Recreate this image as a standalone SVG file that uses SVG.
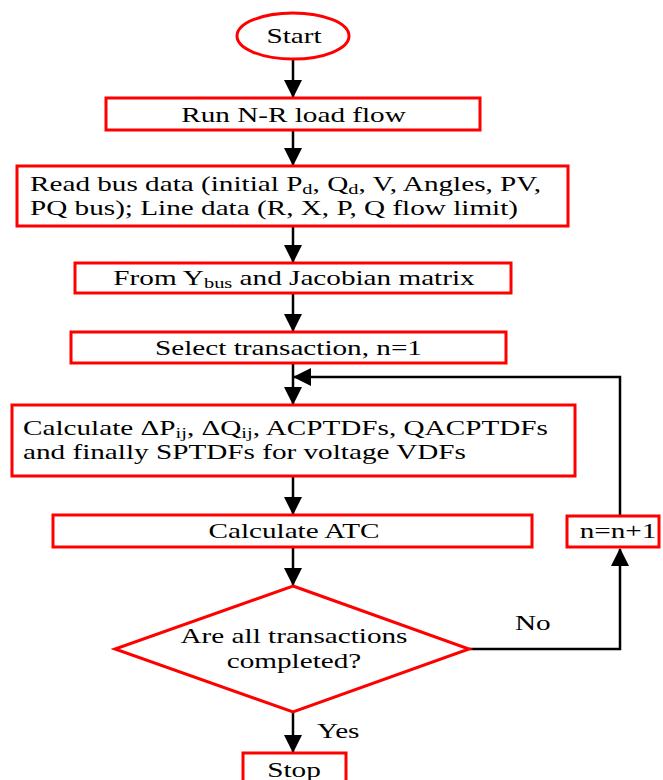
<svg xmlns="http://www.w3.org/2000/svg" width="663" height="780" viewBox="0 0 663 780">
<style>
.n{fill:#fff;stroke:#ff0000;stroke-width:3}
.t{font-family:"Liberation Serif","Times New Roman",serif;font-size:20px;fill:#000}
.c{text-anchor:middle}
.e{fill:none;stroke:#000;stroke-width:2.5}
.sub{font-size:14px}
</style>
<defs>
<marker id="ah" markerUnits="userSpaceOnUse" markerWidth="18" markerHeight="22" viewBox="0 0 18 22" refX="17" refY="11" orient="auto">
<path d="M0,2 L18,11 L0,20 Z" fill="#000"/>
</marker>
</defs>
<g id="connectors">
<line class="e" x1="293" y1="59" x2="293" y2="97" marker-end="url(#ah)"/>
<line class="e" x1="293" y1="130" x2="293" y2="165" marker-end="url(#ah)"/>
<line class="e" x1="293" y1="226" x2="293" y2="262" marker-end="url(#ah)"/>
<line class="e" x1="293" y1="293" x2="293" y2="331" marker-end="url(#ah)"/>
<line class="e" x1="293" y1="363" x2="293" y2="404" marker-end="url(#ah)"/>
<polyline class="e" points="620,515 620,377 294,377" marker-end="url(#ah)"/>
<line class="e" x1="293" y1="476" x2="293" y2="514" marker-end="url(#ah)"/>
<line class="e" x1="293" y1="547" x2="293" y2="585" marker-end="url(#ah)"/>
<polyline class="e" points="469,649 620,649 620,549" marker-end="url(#ah)"/>
<line class="e" x1="293" y1="712" x2="293" y2="752" marker-end="url(#ah)"/>
<text class="t" transform="matrix(1.46 0 0 1 515 630)">No</text>
<text class="t" transform="matrix(1.46 0 0 1 317 738)">Yes</text>
</g>
<g id="start">
<ellipse class="n" cx="293" cy="36" rx="56" ry="23"/>
<text class="t c" transform="matrix(1.46 0 0 1 294 43)">Start</text>
</g>
<g id="runnr">
<rect class="n" x="106" y="98" width="374" height="32"/>
<text class="t c" transform="matrix(1.46 0 0 1 293.5 122)">Run N-R load flow</text>
</g>
<g id="readdata">
<rect class="n" x="17" y="166" width="551" height="60"/>
<text class="t" transform="matrix(1.46 0 0 1 30 191)">Read bus data (initial P<tspan class="sub" dy="3">d</tspan><tspan dy="-3">, Q</tspan><tspan class="sub" dy="3">d</tspan><tspan dy="-3">, V, Angles, PV,</tspan></text>
<text class="t" transform="matrix(1.46 0 0 1 30 215)">PQ bus); Line data (R, X, P, Q flow limit)</text>
</g>
<g id="ybus">
<rect class="n" x="75" y="263" width="436" height="30"/>
<text class="t c" transform="matrix(1.46 0 0 1 294 285)">From Y<tspan class="sub" dy="3">bus</tspan><tspan dy="-3"> and Jacobian matrix</tspan></text>
</g>
<g id="select">
<rect class="n" x="71" y="332" width="435" height="31"/>
<text class="t c" transform="matrix(1.46 0 0 1 288.5 355)">Select transaction, n=1</text>
</g>
<g id="calcptdf">
<rect class="n" x="12" y="405" width="563" height="71"/>
<text class="t" transform="matrix(1.46 0 0 1 23 435)">Calculate ΔP<tspan class="sub" dy="3">ij</tspan><tspan dy="-3">, ΔQ</tspan><tspan class="sub" dy="3">ij</tspan><tspan dy="-3">, ACPTDFs, QACPTDFs</tspan></text>
<text class="t" transform="matrix(1.46 0 0 1 23 459)">and finally SPTDFs for voltage VDFs</text>
</g>
<g id="atc">
<rect class="n" x="53" y="515" width="479" height="32"/>
<text class="t c" transform="matrix(1.46 0 0 1 294 538)">Calculate ATC</text>
</g>
<g id="incr">
<rect class="n" x="567" y="516" width="92" height="31"/>
<text class="t c" transform="matrix(1.46 0 0 1 618 538)">n=n+1</text>
</g>
<g id="decision">
<polygon class="n" points="293,586 469,649 293,712 115,649"/>
<text class="t c" transform="matrix(1.46 0 0 1 294 643)">Are all transactions</text>
<text class="t c" transform="matrix(1.46 0 0 1 294 668)">completed?</text>
</g>
<g id="stop">
<rect class="n" x="243" y="753" width="103" height="40"/>
<text class="t c" transform="matrix(1.46 0 0 1 294 777)">Stop</text>
</g>
</svg>
